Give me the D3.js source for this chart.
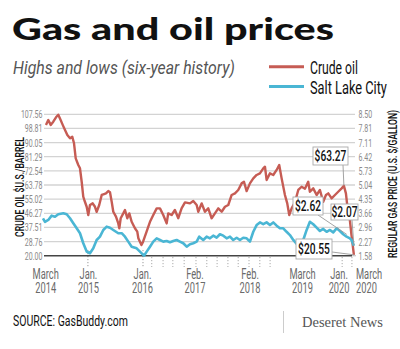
<!DOCTYPE html>
<html><head><meta charset="utf-8">
<script src="https://cdn.jsdelivr.net/npm/d3@7"></script>
<style>body{margin:0;background:#fff}svg{display:block}</style>
</head><body>
<svg id="c" width="400" height="349"></svg>
<script>
// ---- data (dates as decimal years) ----
const oilDates = [2014.205,2014.25,2014.297,2014.347,2014.40,2014.444,2014.49,2014.53,2014.575,2014.62,2014.672,2014.716,2014.75,2014.783,2014.833,2014.866,2014.899,2014.93,2014.95,2014.996,2015.027,2015.06,2015.113,2015.157,2015.19,2015.24,2015.288,2015.32,2015.371,2015.416,2015.449,2015.482,2015.513,2015.565,2015.61,2015.63,2015.657,2015.707,2015.74,2015.785,2015.824,2015.87,2015.934,2015.979,2016.0,2016.06,2016.09,2016.16,2016.226,2016.29,2016.356,2016.42,2016.484,2016.55,2016.58,2016.647,2016.71,2016.776,2016.84,2016.906,2017.003,2017.067,2017.133,2017.164,2017.23,2017.294,2017.358,2017.424,2017.488,2017.553,2017.619,2017.683,2017.747,2017.813,2017.877,2017.941,2018.007,2018.052,2018.104,2018.168,2018.233,2018.298,2018.362,2018.427,2018.46,2018.492,2018.557,2018.621,2018.687,2018.737,2018.784,2018.848,2018.893,2018.932,2018.978,2019.042,2019.107,2019.172,2019.237,2019.30,2019.333,2019.398,2019.464,2019.528,2019.592,2019.645,2019.69,2019.755,2019.82,2019.883,2019.95,2019.994,2020.033,2020.058,2020.10,2020.14,2020.188];
const oilValues = [100.9,104,101,103,105.7,107.3,104,101,97.8,94.7,92.7,93.7,89.6,80.3,76.2,74.1,65.8,56.5,54.5,50.3,45.2,51.4,52.4,50.3,47.2,51.4,57.6,58,58.6,60,59.3,53.4,47.2,44.2,40,37,43.2,46.2,48.3,43.2,46.2,41,37,34.9,30.8,26.6,28.5,34.9,41,45.2,49.3,49.3,45.2,40,46.2,45.2,48.3,43.2,49.3,53,52.4,53.9,51.4,47.2,52.4,47.2,49.3,43.2,46.2,49.3,47.2,50.3,51.4,57.6,58.6,60.7,64.8,65.8,60,64.8,67.9,70,71,74.1,75.1,66.9,71,70,73.1,76.2,67.9,57.6,52.4,45.2,49.3,53,60.7,62.7,61.5,65.8,59.6,61.7,57.6,60.7,53.4,57.6,58.6,55.5,57.6,59.6,61.7,63.27,58.6,51.4,45,33,20.55];
const gasDates = [2014.147,2014.186,2014.25,2014.316,2014.38,2014.444,2014.542,2014.608,2014.672,2014.736,2014.802,2014.866,2014.93,2014.996,2015.06,2015.124,2015.19,2015.254,2015.319,2015.385,2015.449,2015.513,2015.61,2015.676,2015.74,2015.804,2015.87,2015.967,2016.031,2016.109,2016.162,2016.226,2016.29,2016.356,2016.42,2016.484,2016.55,2016.614,2016.678,2016.744,2016.808,2016.873,2016.939,2017.003,2017.067,2017.133,2017.183,2017.261,2017.327,2017.391,2017.455,2017.521,2017.585,2017.65,2017.716,2017.78,2017.844,2017.91,2017.974,2018.038,2018.104,2018.168,2018.233,2018.298,2018.362,2018.427,2018.492,2018.557,2018.621,2018.687,2018.751,2018.815,2018.88,2018.945,2019.01,2019.08,2019.15,2019.204,2019.27,2019.333,2019.398,2019.464,2019.528,2019.592,2019.658,2019.722,2019.787,2019.852,2019.916,2019.98,2020.046,2020.11,2020.142,2020.188];
const gasValues = [3.41,3.24,3.33,3.54,3.49,3.61,3.66,3.61,3.41,3.17,2.92,2.68,2.19,1.78,1.70,1.94,2.35,2.51,2.84,3.0,2.95,2.84,2.68,2.68,2.51,2.27,2.02,1.94,1.78,1.58,1.78,2.02,2.27,2.43,2.35,2.27,2.30,2.24,2.30,2.35,2.27,2.19,2.02,2.14,2.19,2.27,2.51,2.35,2.51,2.43,2.56,2.46,2.63,2.56,2.43,2.51,2.35,2.46,2.35,2.46,2.43,2.27,2.75,3.08,3.21,3.12,3.21,3.08,3.21,3.05,2.92,2.92,2.75,2.59,2.35,2.15,2.12,2.35,2.84,3.24,3.12,2.95,2.79,2.89,2.75,2.84,2.72,2.92,2.79,2.63,2.51,2.43,2.35,2.07];
const oilTicks = [20.00,28.76,37.51,46.27,55.02,63.78,72.54,81.29,90.05,98.81,107.56];
const gasTicks = [1.58,2.27,2.96,3.66,4.35,5.04,5.73,6.42,7.11,7.81,8.50];
const xLabelTop = ["March","Jan.","Jan.","Feb.","Feb.","March","Jan.","March"];
const xLabelBottom = ["2014","2015","2016","2017","2018","2019","2020","2020"];
const xLabelDates = [2014.2,2015.03,2016.08,2017.1,2018.17,2019.19,2019.9,2020.19];
const majorDots = [2015.02,2016.09];
const minorDots = [2016.26,2016.48,2016.67,2016.89,2017.12,2017.33,2017.53,2017.74,2017.94,2018.15,2018.36,2018.56,2019.96,2020.15];
const callouts = [
  {text:"$63.27", date:2019.994, value:63.27, axis:"oil"},
  {text:"$2.62", date:2020.05, value:2.62, axis:"gas"},
  {text:"$2.07", date:2020.188, value:2.07, axis:"gas"},
  {text:"$20.55", date:2020.188, value:20.55, axis:"oil"}
];

const RED = "#c65c54", BLUE = "#4ab6d4";
const svg = d3.select("#c");
const x = d3.scaleLinear().domain([2014.1667, 2020.19]).range([44, 354]);
const yOil = d3.scaleLinear().domain([20, 107.56]).range([255.7, 114.3]);
const yGas = d3.scaleLinear().domain([1.58, 8.50]).range([255.7, 114.3]);

// text drawn with a horizontal squeeze (condensed look); if width given, squeeze to fit it
function ctext(g, px, py, str, o) {
  o = o || {};
  const t = g.append("text")
    .attr("font-family", o.family || "Roboto, 'Liberation Sans', sans-serif")
    .attr("font-size", o.size || 12)
    .attr("font-weight", o.weight || 400)
    .attr("font-style", o.style || "normal")
    .attr("fill", o.fill || "#111")
    .attr("text-anchor", o.anchor || "start");
  if (Array.isArray(str)) {
    str.forEach((s, k) => t.append("tspan").attr("x", 0).attr("y", k * (o.lh || 15)).text(s));
  } else t.text(str);
  if (o.dy) t.attr("dy", o.dy);
  let sx = o.sx || 1;
  if (o.width) sx = o.width / t.node().getComputedTextLength();
  t.attr("transform", `translate(${px},${py}) ${o.rot ? "rotate(" + o.rot + ")" : ""} scale(${sx},1)`);
  return t;
}

// Title and subtitle
ctext(svg, 12, 40, "Gas and oil prices", {family: "Lato, Roboto, sans-serif", weight: 900, size: 31, width: 322});
ctext(svg, 13, 74, "Highs and lows (six-year history)", {style: "italic", size: 19, fill: "#555", width: 222});

// Legend
const legend = [["Crude oil", RED, 66.7, 74, 48], ["Salt Lake City", BLUE, 86.5, 94, 77]];
legend.forEach(([name, col, ly, ty, tl]) => {
  svg.append("line").attr("x1", 269).attr("x2", 304).attr("y1", ly).attr("y2", ly)
    .attr("stroke", col).attr("stroke-width", 3);
  ctext(svg, 310, ty, name, {size: 19, width: tl});
});

// Gridlines
const grid = svg.append("g");
oilTicks.forEach(v => {
  if (v === 20) return;
  grid.append("line").attr("x1", 44).attr("x2", 355).attr("y1", yOil(v)).attr("y2", yOil(v))
    .attr("stroke", "#d3d3d3").attr("stroke-width", 1.3);
});
majorDots.forEach(d => {
  grid.append("line").attr("x1", x(d)).attr("x2", x(d)).attr("y1", 250).attr("y2", 267)
    .attr("stroke", "#999").attr("stroke-width", 1).attr("stroke-dasharray", "1.2,1.8");
});
minorDots.forEach(d => {
  grid.append("line").attr("x1", x(d)).attr("x2", x(d)).attr("y1", 257).attr("y2", 267)
    .attr("stroke", "#aaa").attr("stroke-width", 1).attr("stroke-dasharray", "1.2,1.8");
});
svg.append("line").attr("x1", 44).attr("x2", 352).attr("y1", yOil(20)).attr("y2", yOil(20))
  .attr("stroke", "#444").attr("stroke-width", 1.4);
svg.append("line").attr("x1", 352).attr("x2", 356).attr("y1", yOil(20)).attr("y2", yOil(20))
  .attr("stroke", "#ccc").attr("stroke-width", 1.3);

// Tick labels
const lab = svg.append("g");
oilTicks.forEach(v => ctext(lab, 42.5, yOil(v), v.toFixed(2), {size: 11, sx: 0.64, fill: "#8a8a8a", anchor: "end", dy: "0.36em"}));
gasTicks.forEach(v => ctext(lab, 358.5, yGas(v), v.toFixed(2), {size: 11, sx: 0.64, fill: "#8a8a8a", anchor: "start", dy: "0.36em"}));
xLabelDates.forEach((d, i) => {
  const last = i === xLabelDates.length - 1;
  const px = last ? x(d) + 2 : x(d);
  ctext(lab, px, 278.5, [xLabelTop[i], xLabelBottom[i]], {size: 15.5, sx: 0.6, fill: "#6a6a6a", anchor: last ? "start" : "middle", lh: 15});
});

// Axis titles
ctext(svg, 24, 187, "CRUDE OIL $U.S./BARREL", {size: 12.5, rot: -90, anchor: "middle", weight: 500, width: 100});
ctext(svg, 397, 184, "REGULAR GAS PRICE (U.S. $/GALLON)", {size: 12.5, rot: -90, anchor: "middle", weight: 500, width: 148});

// Lines
const oilLine = d3.line().x((d, i) => x(oilDates[i])).y(d => yOil(d));
const gasLine = d3.line().x((d, i) => x(gasDates[i])).y(d => yGas(d));
svg.append("path").attr("d", oilLine(oilValues)).attr("fill", "none")
  .attr("stroke", RED).attr("stroke-width", 2.4).attr("stroke-linejoin", "round");
svg.append("path").attr("d", gasLine(gasValues)).attr("fill", "none")
  .attr("stroke", BLUE).attr("stroke-width", 2.6).attr("stroke-linejoin", "round");

// Callouts
const boxes = [
  {x0: 313, y0: 147, x1: 348, y1: 165, lx: 343, ly: 165},
  {x0: 293, y0: 197, x1: 323, y1: 215, lx: 318, ly: 215},
  {x0: 331, y0: 204, x1: 358, y1: 220, lx: 352, ly: 220},
  {x0: 296, y0: 239, x1: 332, y1: 259, lx: 332, ly: 252}
];
const cg = svg.append("g");
callouts.forEach((c, i) => {
  const b = boxes[i];
  const tx = x(c.date), ty = c.axis === "oil" ? yOil(c.value) : yGas(c.value);
  cg.append("line").attr("x1", b.lx).attr("y1", b.ly).attr("x2", tx).attr("y2", ty)
    .attr("stroke", "#999").attr("stroke-width", 0.9);
});
callouts.forEach((c, i) => {
  const b = boxes[i];
  cg.append("rect").attr("x", b.x0).attr("y", b.y0).attr("width", b.x1 - b.x0).attr("height", b.y1 - b.y0)
    .attr("fill", "#fff").attr("stroke", "#aaa").attr("stroke-width", 0.9);
  ctext(cg, (b.x0 + b.x1) / 2, (b.y0 + b.y1) / 2, c.text, {size: 15, sx: 0.68, anchor: "middle", weight: 500, dy: "0.36em"});
});

// Footer
ctext(svg, 13, 326, "SOURCE: GasBuddy.com", {size: 15, width: 115});
svg.append("line").attr("x1", 283.5).attr("x2", 283.5).attr("y1", 311).attr("y2", 333)
  .attr("stroke", "#ccc").attr("stroke-width", 1);
ctext(svg, 302, 327, "Deseret News", {family: "'Liberation Serif', 'DejaVu Serif', serif", size: 14.5, fill: "#555", width: 81});
</script>
</body></html>
